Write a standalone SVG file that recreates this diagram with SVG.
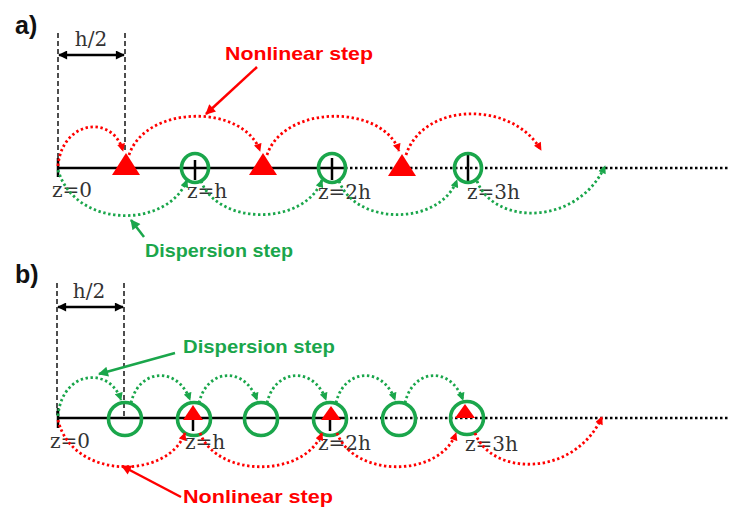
<svg xmlns="http://www.w3.org/2000/svg" width="729" height="510" viewBox="0 0 729 510">
  <style>
    .axis { stroke: #000; stroke-width: 2.5; fill: none; }
    .axis-dot { stroke: #000; stroke-width: 2.5; stroke-dasharray: 2.5 2.5; fill: none; }
    .tick { stroke: #000; stroke-width: 2.5; }
    .guide { stroke: #222; stroke-width: 1.6; stroke-dasharray: 5 3; fill: none; }
    .dim { stroke: #000; stroke-width: 2.4; fill: none; }
    .nl { stroke: #f00; stroke-width: 2.8; stroke-dasharray: 2.4 2.6; fill: none; }
    .ds { stroke: #1aa64b; stroke-width: 2.8; stroke-dasharray: 2.4 2.6; fill: none; }
    .nl-ptr { stroke: #f00; stroke-width: 2.5; fill: none; }
    .ds-ptr { stroke: #1aa64b; stroke-width: 2.5; fill: none; }
    .ring { stroke: #1aa64b; stroke-width: 3.6; fill: none; }
    .tri { fill: #f00; }
    .zlab { font-family: "DejaVu Serif", serif; font-size: 20px; fill: #333; }
    .panel { font-family: "Liberation Sans", Arial, sans-serif; font-weight: bold; font-size: 25px; fill: #111; }
    .lab { font-family: "Liberation Sans", Arial, sans-serif; font-weight: bold; font-size: 19px; }
  </style>
  <defs>
    <marker id="headRed" viewBox="0 0 10 10" refX="9" refY="5" markerWidth="9" markerHeight="8" markerUnits="userSpaceOnUse" orient="auto">
      <path d="M0,0 L10,5 L0,10 Z" fill="#f00"/>
    </marker>
    <marker id="headGreen" viewBox="0 0 10 10" refX="9" refY="5" markerWidth="9" markerHeight="8" markerUnits="userSpaceOnUse" orient="auto">
      <path d="M0,0 L10,5 L0,10 Z" fill="#1aa64b"/>
    </marker>
    <marker id="ptrRed" viewBox="0 0 10 10" refX="9" refY="5" markerWidth="12" markerHeight="10" markerUnits="userSpaceOnUse" orient="auto">
      <path d="M0,0 L10,5 L0,10 Z" fill="#f00"/>
    </marker>
    <marker id="ptrGreen" viewBox="0 0 10 10" refX="9" refY="5" markerWidth="12" markerHeight="10" markerUnits="userSpaceOnUse" orient="auto">
      <path d="M0,0 L10,5 L0,10 Z" fill="#1aa64b"/>
    </marker>
    <marker id="headBlack" viewBox="0 0 10 10" refX="9" refY="5" markerWidth="10" markerHeight="9" markerUnits="userSpaceOnUse" orient="auto-start-reverse">
      <path d="M0,0 L10,5 L0,10 Z" fill="#000"/>
    </marker>
  </defs>

  <!-- ===== Panel a: symmetric split-step (N first) ===== -->
  <g id="panel-a">
    <text class="panel" x="15" y="34">a)</text>

    <g id="a-halfstep">
      <line class="guide" x1="58" y1="33" x2="58" y2="165"/>
      <line class="guide" x1="125" y1="33" x2="125" y2="152"/>
      <line class="dim" x1="59" y1="55" x2="124" y2="55" marker-start="url(#headBlack)" marker-end="url(#headBlack)"/>
      <text class="zlab" x="91" y="46" text-anchor="middle" font-size="21">h/2</text>
    </g>

    <g id="a-axis">
      <line class="axis" x1="58" y1="168" x2="345" y2="168"/>
      <line class="axis-dot" x1="345" y1="168" x2="729" y2="168"/>
      <line class="tick" x1="58" y1="158" x2="58" y2="177"/>
      <line class="tick" x1="195" y1="160" x2="195" y2="180"/>
      <line class="tick" x1="332" y1="158" x2="332" y2="180"/>
      <line class="tick" x1="468" y1="155" x2="468" y2="181"/>
    </g>

    <g id="a-nonlinear-1"><polygon class="tri" points="126,153 112,175 140,175"/></g>
    <g id="a-nonlinear-2"><polygon class="tri" points="263,153 249,175 277,175"/></g>
    <g id="a-nonlinear-3"><polygon class="tri" points="402,154 388,176 416,176"/></g>

    <g id="a-dispersion-1"><ellipse class="ring" cx="195" cy="168" rx="13.5" ry="14.5"/></g>
    <g id="a-dispersion-2"><ellipse class="ring" cx="332" cy="168" rx="13.5" ry="14.5"/></g>
    <g id="a-dispersion-3"><ellipse class="ring" cx="468" cy="168" rx="13.5" ry="14.5"/></g>

    <g id="a-labels">
      <text class="zlab" x="52" y="197">z=0</text>
      <text class="zlab" x="187" y="198">z=h</text>
      <text class="zlab" x="318" y="199">z=2h</text>
      <text class="zlab" x="467" y="199">z=3h</text>
      <text class="lab" x="225" y="60" fill="#f00" textLength="148" lengthAdjust="spacingAndGlyphs">Nonlinear step</text>
      <text class="lab" x="145" y="257" fill="#1aa64b" textLength="148" lengthAdjust="spacingAndGlyphs">Dispersion step</text>
    </g>

    <g id="a-connectors">
      <!-- nonlinear hops above the axis -->
      <path class="nl" d="M58,166 C62,120 113,114 123,151" marker-end="url(#headRed)"/>
      <path class="nl" d="M129,155 C146,104 244,104 260,151" marker-end="url(#headRed)"/>
      <path class="nl" d="M267,155 C284,104 383,104 399,151" marker-end="url(#headRed)"/>
      <path class="nl" d="M406,155 C423,102 512,100 541,150" marker-end="url(#headRed)"/>
      <!-- dispersion hops below the axis -->
      <path class="ds" d="M58,170 C75,229 168,229 187,180" marker-end="url(#headGreen)"/>
      <path class="ds" d="M201,181 C218,226 305,226 322,180" marker-end="url(#headGreen)"/>
      <path class="ds" d="M339,181 C356,226 440,226 457,180" marker-end="url(#headGreen)"/>
      <path class="ds" d="M477,181 C494,226 578,226 605,166" marker-end="url(#headGreen)"/>
      <!-- label pointers -->
      <line class="nl-ptr" x1="257" y1="67" x2="206" y2="114" marker-end="url(#ptrRed)"/>
      <line class="ds-ptr" x1="144" y1="237" x2="131" y2="220" marker-end="url(#ptrGreen)"/>
    </g>
  </g>

  <!-- ===== Panel b: symmetric split-step (D first) ===== -->
  <g id="panel-b">
    <text class="panel" x="15" y="283">b)</text>

    <g id="b-halfstep">
      <line class="guide" x1="57" y1="283" x2="57" y2="415"/>
      <line class="guide" x1="124" y1="283" x2="124" y2="418"/>
      <line class="dim" x1="58" y1="307" x2="123" y2="307" marker-start="url(#headBlack)" marker-end="url(#headBlack)"/>
      <text class="zlab" x="89" y="298" text-anchor="middle" font-size="21">h/2</text>
    </g>

    <g id="b-axis">
      <line class="axis" x1="58" y1="418" x2="345" y2="418"/>
      <line class="axis-dot" x1="345" y1="418" x2="729" y2="418"/>
      <line class="tick" x1="58" y1="408" x2="58" y2="428"/>
      <line class="tick" x1="193" y1="418" x2="193" y2="431"/>
      <line class="tick" x1="330" y1="418" x2="330" y2="431"/>
    </g>

    <g id="b-dispersion-1"><circle class="ring" cx="125" cy="419" r="16.5"/></g>
    <g id="b-dispersion-2"><circle class="ring" cx="194" cy="419" r="16.5"/></g>
    <g id="b-dispersion-3"><circle class="ring" cx="261" cy="419" r="16.5"/></g>
    <g id="b-dispersion-4"><circle class="ring" cx="330" cy="419" r="16.5"/></g>
    <g id="b-dispersion-5"><circle class="ring" cx="399" cy="419" r="16.5"/></g>
    <g id="b-dispersion-6"><circle class="ring" cx="467" cy="418" r="16.5"/></g>

    <g id="b-nonlinear-1"><polygon class="tri" points="193,405 183,420 203,420"/></g>
    <g id="b-nonlinear-2"><polygon class="tri" points="331,406 321,420 341,420"/></g>
    <g id="b-nonlinear-3"><polygon class="tri" points="465,404 455,418 475,418"/></g>

    <g id="b-labels">
      <text class="zlab" x="50" y="448">z=0</text>
      <text class="zlab" x="185" y="449">z=h</text>
      <text class="zlab" x="318" y="450">z=2h</text>
      <text class="zlab" x="465" y="451">z=3h</text>
      <text class="lab" x="183" y="353" fill="#1aa64b" textLength="152" lengthAdjust="spacingAndGlyphs">Dispersion step</text>
      <text class="lab" x="183" y="503" fill="#f00" textLength="150" lengthAdjust="spacingAndGlyphs">Nonlinear step</text>
    </g>

    <g id="b-connectors">
      <!-- dispersion hops above the axis -->
      <path class="ds" d="M58,416 C62,370 110,366 121,400" marker-end="url(#headGreen)"/>
      <path class="ds" d="M131,403 C139,368 178,366 190,400" marker-end="url(#headGreen)"/>
      <path class="ds" d="M199,403 C207,368 245,366 257,400" marker-end="url(#headGreen)"/>
      <path class="ds" d="M267,403 C275,368 314,366 326,400" marker-end="url(#headGreen)"/>
      <path class="ds" d="M336,403 C344,368 383,366 395,400" marker-end="url(#headGreen)"/>
      <path class="ds" d="M405,403 C413,368 451,366 463,400" marker-end="url(#headGreen)"/>
      <!-- nonlinear hops below the axis -->
      <path class="nl" d="M58,420 C72,480 168,480 185,433" marker-end="url(#headRed)"/>
      <path class="nl" d="M200,433 C217,478 305,478 322,433" marker-end="url(#headRed)"/>
      <path class="nl" d="M337,433 C354,478 440,478 456,433" marker-end="url(#headRed)"/>
      <path class="nl" d="M475,433 C492,477 575,477 602,417" marker-end="url(#headRed)"/>
      <!-- label pointers -->
      <line class="ds-ptr" x1="175" y1="353" x2="99" y2="374" marker-end="url(#ptrGreen)"/>
      <line class="nl-ptr" x1="181" y1="497" x2="122" y2="466" marker-end="url(#ptrRed)"/>
    </g>
  </g>
</svg>
